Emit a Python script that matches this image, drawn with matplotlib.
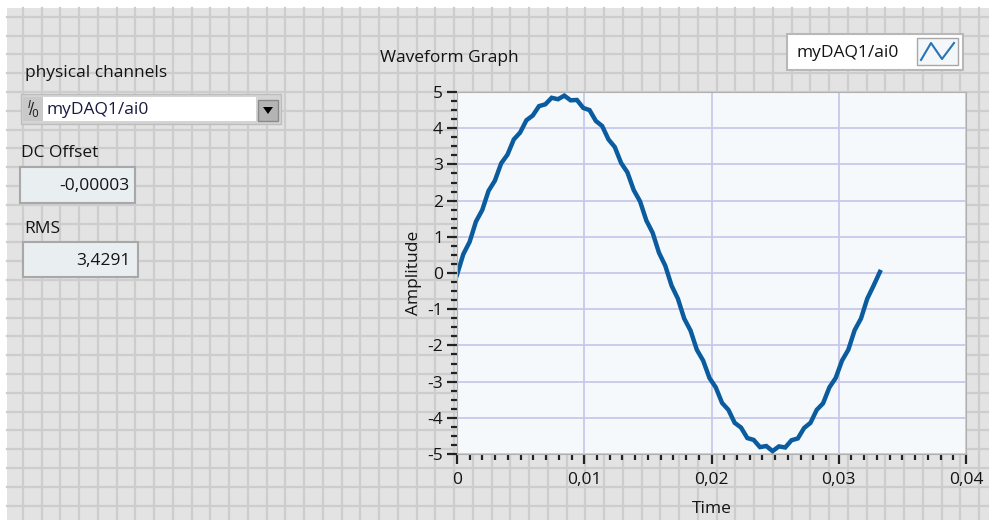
import numpy as np
import matplotlib
matplotlib.use('Agg')
import matplotlib.pyplot as plt
from matplotlib.patches import Rectangle, Polygon
from matplotlib.ticker import MultipleLocator, FuncFormatter

plt.rcParams['font.family'] = ['Open Sans', 'DejaVu Sans']

# Señal (muestras cada dt segundos)
dt = 0.000496
amplitud = [
    -0.05, 0.52, 0.86, 1.42, 1.74, 2.27, 2.55, 3.03, 3.27, 3.69,
    3.88, 4.22, 4.35, 4.61, 4.66, 4.84, 4.80, 4.90, 4.77, 4.78,
    4.56, 4.50, 4.20, 4.06, 3.69, 3.48, 3.04, 2.78, 2.29, 1.98,
    1.45, 1.11, 0.56, 0.20, -0.35, -0.71, -1.26, -1.59, -2.12, -2.42,
    -2.90, -3.16, -3.59, -3.78, -4.14, -4.27, -4.56, -4.61, -4.81, -4.78,
    -4.92, -4.79, -4.82, -4.62, -4.57, -4.28, -4.14, -3.78, -3.60, -3.16,
    -2.90, -2.42, -2.12, -1.58, -1.26, -0.71, -0.35, 0.03,
]
tiempo = np.arange(len(amplitud)) * dt

canal = 'myDAQ1/ai0'
dc_offset = '-0,00003'
rms = '3,4291'

W, H = 989, 520
fig = plt.figure(figsize=(W / 100, H / 100), dpi=100)
fig.patch.set_facecolor('white')

# Panel de fondo con cuadrícula (coordenadas en píxeles)
bg = fig.add_axes([0, 0, 1, 1])
bg.set_xlim(0, W)
bg.set_ylim(H, 0)
bg.axis('off')
bg.add_patch(Rectangle((7, 8), W - 7, H - 8, facecolor='#e3e3e3', edgecolor='none', zorder=0))
for x in np.arange(22.75, W, 18.75):
    bg.plot([x, x], [8, H], color='#cdcdcd', lw=1.6, zorder=0.5)
for y in np.arange(16.8, H, 18.8):
    bg.plot([7, W], [y, y], color='#cdcdcd', lw=1.6, zorder=0.5)

fs = 12.5
txt = dict(fontsize=fs, color='#141414')

# physical channels
bg.text(25, 73, 'physical channels', va='center', ha='left', **txt)
bg.add_patch(Rectangle((21, 94), 260, 30, facecolor='#d4d4d4', edgecolor='#bdbdbd', lw=1))
bg.add_patch(Rectangle((43, 97), 213, 24, facecolor='white', edgecolor='none'))
bg.add_patch(Rectangle((23, 97), 20, 24, facecolor='#c9c9c9', edgecolor='none'))
bg.text(33, 109, '$^{I}\\!/\\!_{0}$', ha='center', va='center', fontsize=11, color='#222222')
bg.add_patch(Rectangle((258, 100), 20, 21, facecolor='#b4b4b4', edgecolor='#8a8a8a', lw=1))
bg.add_patch(Polygon([[263, 107], [273, 107], [268, 114]], closed=True, facecolor='black', zorder=2))
bg.text(47, 110, canal, va='center', ha='left', fontsize=fs, color='#1a1a40')

# DC Offset
bg.text(21, 153, 'DC Offset', va='center', ha='left', **txt)
bg.add_patch(Rectangle((20, 167), 115, 36, facecolor='#e9eef1', edgecolor='#a8a8a8', lw=1.5))
bg.text(129, 186, dc_offset, va='center', ha='right', **txt)

# RMS
bg.text(24, 229, 'RMS', va='center', ha='left', **txt)
bg.add_patch(Rectangle((23, 242), 115, 35, facecolor='#e9eef1', edgecolor='#a8a8a8', lw=1.5))
bg.text(131, 261, rms, va='center', ha='right', **txt)

# Título del gráfico y leyenda
bg.text(380, 58, 'Waveform Graph', va='center', ha='left', **txt)
bg.add_patch(Rectangle((787, 34), 176, 36, facecolor='white', edgecolor='#b8b8b8', lw=1.5))
bg.text(796, 53, canal, va='center', ha='left', **txt)
bg.add_patch(Rectangle((917, 38), 41, 27, facecolor='#f3f7fa', edgecolor='#a8a8a8', lw=1))
bg.plot([921, 931, 942, 954], [60, 43, 59, 43], color='#2a73b5', lw=1.5, zorder=3)

# Gráfico de la forma de onda
ax = fig.add_axes([457 / W, (H - 454) / H, (966 - 457) / W, (454 - 92) / H])
ax.set_facecolor('#f5f9fb')
ax.plot(tiempo, amplitud, color='#0b5c9e', lw=3.2, solid_joinstyle='miter')
ax.set_xlim(0, 0.04)
ax.set_ylim(-5, 5)
ax.xaxis.set_major_locator(MultipleLocator(0.01))
ax.xaxis.set_minor_locator(MultipleLocator(0.001))
ax.yaxis.set_major_locator(MultipleLocator(1))
ax.yaxis.set_minor_locator(MultipleLocator(0.25))
ax.xaxis.set_major_formatter(FuncFormatter(lambda v, p: ('%g' % round(v, 3)).replace('.', ',')))
ax.yaxis.set_major_formatter(FuncFormatter(lambda v, p: '%d' % round(v)))
ax.grid(True, which='major', color='#c8c8ec', lw=1.3)
ax.set_axisbelow(True)
for s in ax.spines.values():
    s.set_color('#b0b0b0')
ax.tick_params(which='major', direction='out', length=7, width=1.6, color='#222222',
               labelsize=fs, labelcolor='#141414', pad=3)
ax.tick_params(axis='x', which='major', pad=6)
ax.tick_params(which='minor', direction='out', length=4, width=1.6, color='#222222')
ax.set_xlabel('Time', fontsize=fs, color='#141414', labelpad=9)
ax.set_ylabel('Amplitude', fontsize=fs, color='#141414', labelpad=4)

fig.savefig('out.png', dpi=100)
